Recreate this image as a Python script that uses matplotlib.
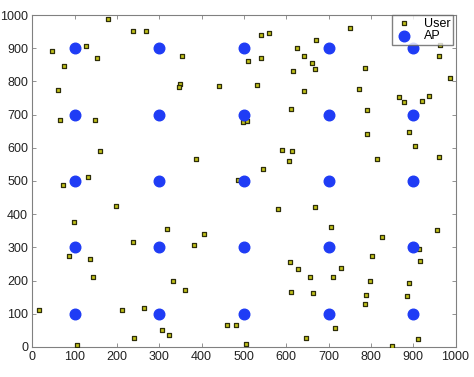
import matplotlib.pyplot as plt

# ==========================================================
# DATA
# ==========================================================

user_x = [46, 75, 61, 65, 128, 152, 179, 149, 160, 237, 268, 353, 348, 346,
          441, 387, 486, 132, 73,
          540, 559, 509, 540, 530, 497, 508, 612, 617, 625, 642, 660, 671,
          669, 641, 750, 785, 771, 790, 790, 589, 613, 607, 546, 815, 889,
          904, 962, 867, 878, 921, 938, 986, 964, 960,
          197, 99, 86, 136, 144, 238, 318, 406, 381, 333, 360, 17, 211, 265,
          306, 324, 240, 106, 461, 482,
          506, 581, 669, 707, 827, 956, 914, 915, 803, 610, 628, 657, 711,
          730, 797, 889, 885, 788, 787, 612, 663, 715, 646, 851, 911]
user_y = [892, 846, 773, 685, 907, 870, 988, 683, 589, 953, 953, 877, 792, 783,
          787, 567, 504, 512, 487,
          939, 945, 861, 869, 788, 678, 682, 718, 832, 900, 877, 856, 926,
          836, 771, 962, 839, 778, 715, 642, 592, 591, 560, 537, 565, 647,
          604, 572, 753, 737, 740, 756, 811, 911, 877,
          424, 377, 275, 264, 212, 317, 356, 339, 306, 200, 171, 112, 110, 118,
          52, 35, 27, 7, 66, 66,
          8, 416, 422, 362, 332, 351, 296, 258, 274, 255, 234, 210, 210,
          238, 199, 194, 155, 157, 129, 167, 162, 58, 26, 4, 24]

ap_grid = [100, 300, 500, 700, 900]
ap_x = [gx for gx in ap_grid for gy in ap_grid]
ap_y = [gy for gx in ap_grid for gy in ap_grid]

# ==========================================================
# STYLE
# ==========================================================

plt.rcParams["font.family"] = ["Liberation Sans", "DejaVu Sans"]
plt.rcParams["font.size"] = 9

fig = plt.figure(figsize=(4.74, 3.77), dpi=100)
ax = fig.add_axes([0.068, 0.0796, 0.893, 0.8806])

# ==========================================================
# DRAW
# ==========================================================

ax.scatter(
    user_x, user_y,
    marker="s", s=11,
    facecolor="#c2c21a",
    edgecolor="#2e2e0a",
    linewidth=0.9,
    label="User",
    zorder=3
)

ax.scatter(
    ap_x, ap_y,
    marker="o", s=58,
    color="#1f3cf5",
    label="AP",
    zorder=3
)

# ==========================================================
# FIGURE SETTINGS
# ==========================================================

ax.set_xlim(0, 1000)
ax.set_ylim(0, 1000)
ax.set_xticks(range(0, 1001, 100))
ax.set_yticks(range(0, 1001, 100))

for sp in ax.spines.values():
    sp.set_color("#808080")
    sp.set_linewidth(0.8)

ax.tick_params(
    direction="in",
    top=True, right=True,
    length=3, width=0.6,
    colors="#808080",
    labelcolor="#222222",
    labelsize=9,
    pad=3
)

ax.legend(
    loc="upper right",
    bbox_to_anchor=(0.995, 1.0),
    fontsize=9,
    frameon=True,
    fancybox=False,
    edgecolor="#606060",
    handlelength=1.5,
    handletextpad=0.9,
    borderpad=0.2,
    labelspacing=0.05,
    borderaxespad=0.0
)

# ==========================================================
# SAVE
# ==========================================================

fig.savefig("out.png", dpi=100)
